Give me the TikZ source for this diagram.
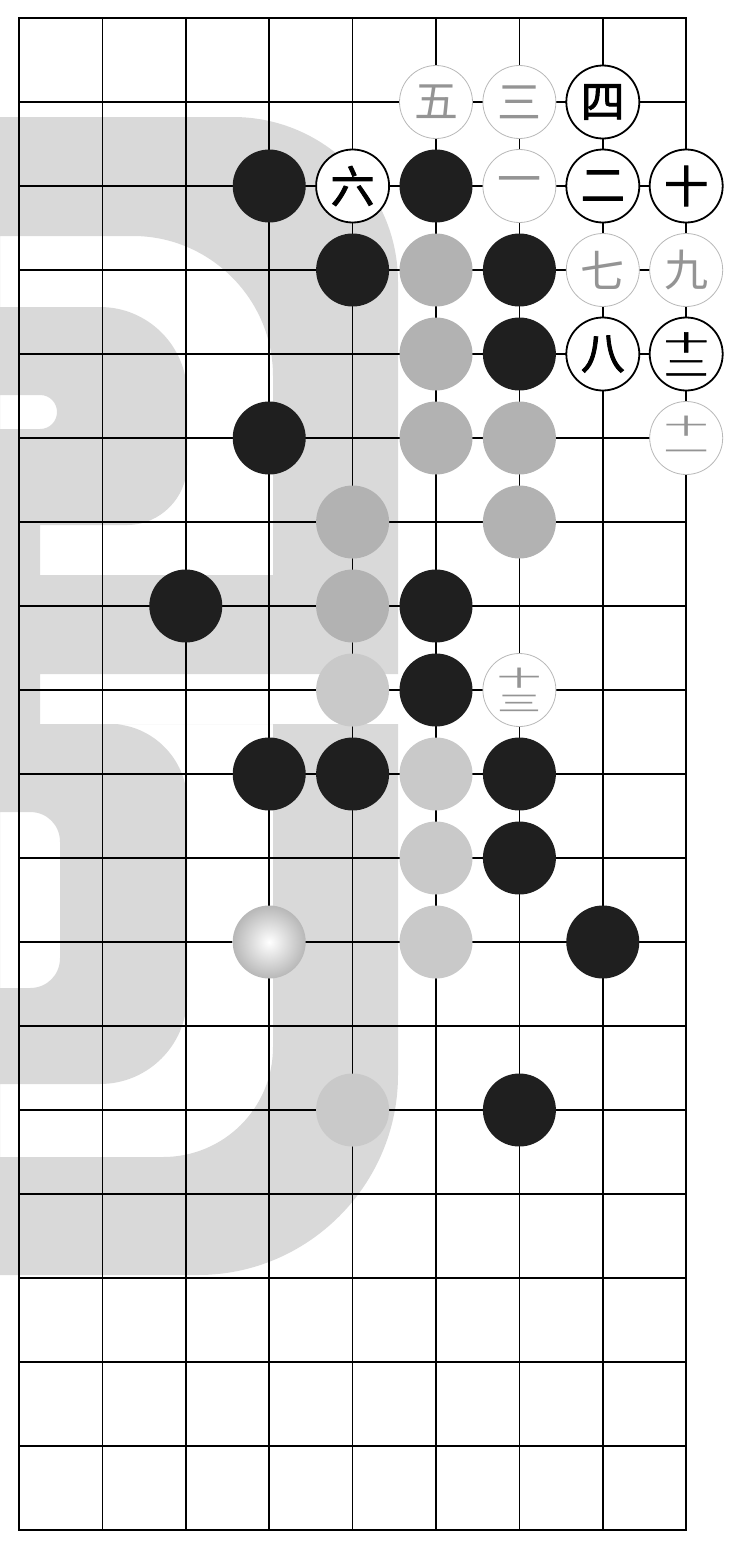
\documentclass[tikz,border=0pt]{standalone}
\usepackage{fontspec}
\usepackage{graphicx}
\newfontfamily\cjk{Noto Sans CJK SC}
\newfontfamily\cjkb{Noto Sans CJK SC}[FakeBold=2]
\usepackage{tikz}
\tikzset{
  gline/.style={line width=1.6pt},
  stone/.style={circle,minimum size=73pt,inner sep=0pt,align=center},
  blk/.style={stone,fill=black!88},
  gst/.style={stone,fill=black!30},
  pst/.style={stone,fill=black!21},
  wst/.style={stone,inner color=white,outer color=black!28},
  lab/.style={stone,fill=white,draw=black,line width=1.8pt,font=\cjkb\fontsize{44}{44}\selectfont},
  labl/.style={stone,fill=white,draw=black!28,line width=0.8pt,text=black!42,font=\cjk\fontsize{44}{44}\selectfont}
}
\newcommand{\stk}[2]{\scalebox{1}[.5]{#1}\\[-19pt]\scalebox{1}[.5]{#2}}
\begin{document}
\begin{tikzpicture}[x=1pt,y=-1pt]
\useasboundingbox (0,0) rectangle (736,1542);
\fill[black!15,even odd rule]
  (0,117) -- (233,117) .. controls (324,117) and (398,191) .. (398,282) -- (398,674) -- (40,674)
    -- (40,724) -- (398,724) -- (398,1075) .. controls (398,1185) and (308,1275) .. (198,1275) -- (0,1275) -- cycle
  (0,236) -- (133,236) .. controls (210,236) and (273,299) .. (273,376) -- (273,575) -- (40,575) -- (40,525) -- (0,525) -- cycle
  (0,307) -- (100,307) .. controls (148,307) and (187,346) .. (187,394) -- (187,465) .. controls (187,498) and (160,525) .. (127,525) -- (0,525) -- cycle
  (0,395) -- (40,395) .. controls (50,395) and (57,403) .. (57,412) .. controls (57,421) and (50,429) .. (40,429) -- (0,429) -- cycle
  (0,724) -- (273,724) -- (273,1047) .. controls (273,1108) and (224,1157) .. (163,1157) -- (0,1157) -- cycle
  (0,724) -- (110,724) .. controls (152,724) and (187,759) .. (187,801) -- (187,997) .. controls (187,1045) and (148,1084) .. (100,1084) -- (0,1084) -- cycle
  (0,812) -- (30,812) .. controls (47,812) and (60,825) .. (60,842) -- (60,958) .. controls (60,975) and (47,988) .. (30,988) -- (0,988) -- cycle;
\foreach \r in {1,...,17} \draw[gline] (19,{18+84*\r}) -- (686,{18+84*\r});
\foreach \c in {1,...,7} \draw[gline] ({19+83.4*\c},18) -- ({19+83.4*\c},1530);
\draw[line width=2.2pt] (19,18) rectangle (686,1530);
\foreach \r/\c in {2/3,2/5,3/4,3/6,4/6,5/3,7/2,7/5,8/5,9/3,9/4,9/6,10/6,11/7,13/6}
  \node[blk] (b\r-\c) at ({19+83.4*\c},{18+84*\r}) {};
\foreach \r/\c in {3/5,4/5,5/5,5/6,6/4,6/6,7/4}
  \node[gst] (g\r-\c) at ({19+83.4*\c},{18+84*\r}) {};
\foreach \r/\c in {8/4,9/5,10/5,11/5,13/4}
  \node[pst] (p\r-\c) at ({19+83.4*\c},{18+84*\r}) {};
\node[wst] (w11-3) at ({19+83.4*3},{18+84*11}) {};
\foreach \r/\c/\lbl in {1/7/四,2/4/六,2/7/二,2/8/十,4/7/八,4/8/{\stk{十}{二}}}
  \node[lab] (n\r-\c) at ({19+83.4*\c},{18+84*\r}) {\lbl};
\foreach \r/\c/\lbl in {1/5/五,1/6/三,2/6/一,3/7/七,3/8/九,5/8/{\stk{十}{一}},8/6/{\stk{十}{三}}}
  \node[labl] (n\r-\c) at ({19+83.4*\c},{18+84*\r}) {\lbl};
\end{tikzpicture}
\end{document}
